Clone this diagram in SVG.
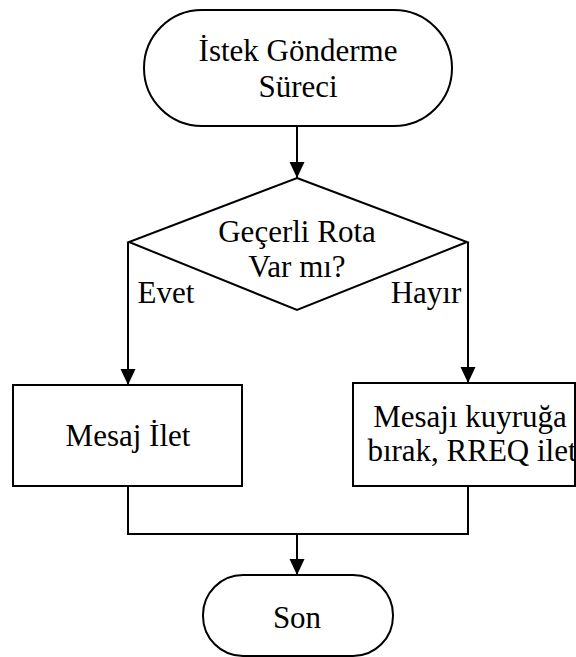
<svg xmlns="http://www.w3.org/2000/svg" width="576" height="657" viewBox="0 0 576 657">
<defs>
<style>
.shape{fill:#fff;stroke:#000;stroke-width:2}
.line{fill:none;stroke:#000;stroke-width:2}
text{font-family:"Liberation Serif","Times New Roman",serif;font-size:31px;fill:#000;text-anchor:middle}
</style>
<marker id="arr" viewBox="0 0 16 16" refX="16" refY="8" markerWidth="16" markerHeight="16" markerUnits="userSpaceOnUse" orient="auto">
<path d="M0,0.5 L16,8 L0,15.5 Z" fill="#000"/>
</marker>
</defs>
<rect width="576" height="657" fill="#fff"/>
<g id="connectors">
<line class="line" x1="297" y1="126" x2="297" y2="178" marker-end="url(#arr)"/>
<polyline class="line" points="128,242 128,385" marker-end="url(#arr)"/>
<polyline class="line" points="468,242 468,383" marker-end="url(#arr)"/>
<polyline class="line" points="128,486 128,534 468,534 468,486"/>
<line class="line" x1="297" y1="534" x2="297" y2="575" marker-end="url(#arr)"/>
</g>
<g id="start">
<rect class="shape" x="144" y="10" width="308" height="116" rx="58" ry="58"/>
<text x="298" y="61">İstek Gönderme</text>
<text x="298" y="97">Süreci</text>
</g>
<g id="decision">
<polygon class="shape" points="297,178 467,242 297,310 129,242"/>
<text x="297" y="242">Geçerli Rota</text>
<text x="297" y="277">Var mı?</text>
</g>
<g id="label-evet"><text x="166" y="303">Evet</text></g>
<g id="label-hayir"><text x="426" y="303">Hayır</text></g>
<g id="send">
<rect class="shape" x="13" y="385" width="229" height="101"/>
<text x="128" y="446">Mesaj İlet</text>
</g>
<g id="queue">
<rect class="shape" x="353" y="383" width="222" height="103"/>
<text x="470" y="427">Mesajı kuyruğa</text>
<text x="472" y="461">bırak, RREQ ilet</text>
</g>
<g id="end">
<rect class="shape" x="203" y="575" width="190" height="81" rx="40" ry="40"/>
<text x="297" y="628">Son</text>
</g>
</svg>
